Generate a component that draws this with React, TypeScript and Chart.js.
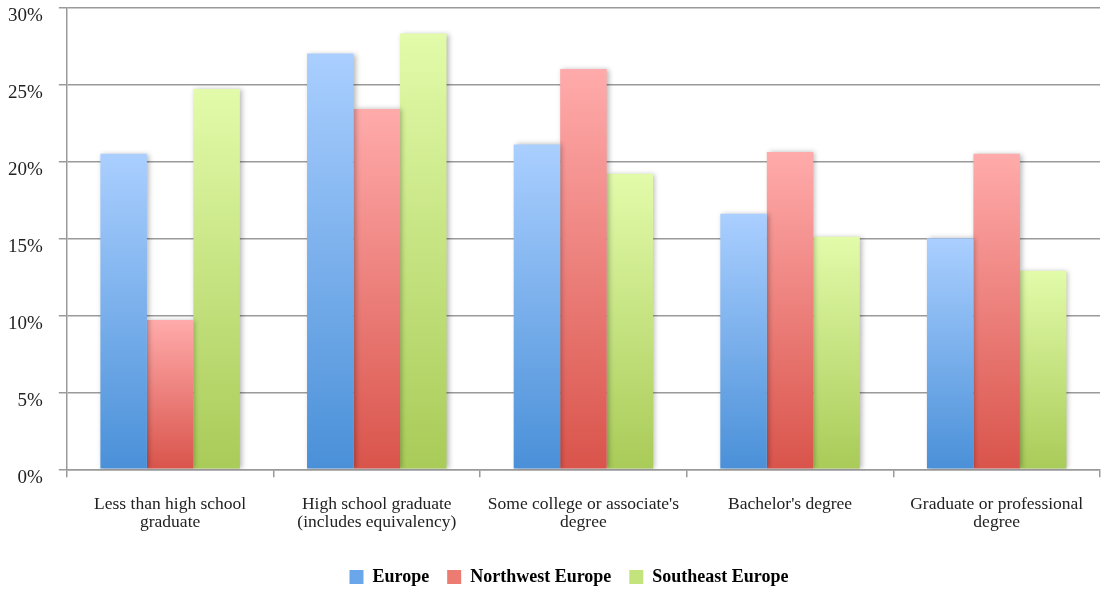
import React, { useEffect, useRef } from "react";
import { Chart, registerables } from "chart.js";

Chart.register(...registerables);

const categories: (string | string[])[] = [
  ["Less than high school", "graduate"],
  ["High school graduate", "(includes equivalency)"],
  ["Some college or associate's", "degree"],
  ["Bachelor's degree"],
  ["Graduate or professional", "degree"],
];
const europe = [20.5, 27.0, 21.1, 16.6, 15.0];
const northwestEurope = [9.7, 23.4, 26.0, 20.6, 20.5];
const southeastEurope = [24.7, 28.3, 19.2, 15.1, 12.9];
const yTicks = [0, 5, 10, 15, 20, 25, 30];

const palettes = [
  { top: "#aacfff", bottom: "#4a90d8", solid: "#6aa6ea" },
  { top: "#ffabab", bottom: "#d9544b", solid: "#ec7b72" },
  { top: "#e2fbaa", bottom: "#a9cb58", solid: "#c3e37c" },
];

function barGradient(idx: number) {
  return (ctx: any) => {
    const chart = ctx.chart;
    const p = palettes[idx];
    const ys = chart.scales && chart.scales.y;
    if (!chart.chartArea || !ys || ctx.type !== "data") return p.solid;
    const v = ctx.raw as number;
    const top = ys.getPixelForValue(v);
    const bottom = ys.getPixelForValue(0);
    if (!isFinite(top) || !isFinite(bottom) || top === bottom) return p.solid;
    const g = chart.ctx.createLinearGradient(0, top, 0, bottom);
    g.addColorStop(0, p.top);
    g.addColorStop(1, p.bottom);
    return g;
  };
}

const shadowPlugin = {
  id: "barShadow",
  afterLayout(chart: any) {
    if (chart.legend) chart.legend.left += 46;
  },
  beforeDatasetsDraw(chart: any) {
    const c = chart.ctx;
    c.save();
    c.shadowColor = "rgba(0,0,0,0.28)";
    c.shadowBlur = 5;
    c.shadowOffsetX = 2;
    c.shadowOffsetY = 0;
  },
  afterDatasetsDraw(chart: any) {
    chart.ctx.restore();
  },
};

export default function App() {
  const ref = useRef<HTMLCanvasElement>(null);
  useEffect(() => {
    if (!ref.current) return;
    const font = "'Liberation Serif', 'Times New Roman', serif";
    const names = ["Europe", "Northwest Europe", "Southeast Europe"];
    const series = [europe, northwestEurope, southeastEurope];
    const chart = new Chart(ref.current, {
      type: "bar",
      data: {
        labels: categories,
        datasets: series.map((d, i) => ({
          label: names[i],
          data: d,
          backgroundColor: barGradient(i),
          borderWidth: 0,
          barPercentage: 1,
          categoryPercentage: 0.675,
        })),
      },
      plugins: [shadowPlugin],
      options: {
        animation: false,
        responsive: true,
        maintainAspectRatio: false,
        layout: { padding: { left: 0, right: 2, top: 0, bottom: 0 } },
        plugins: {
          tooltip: { enabled: false },
          legend: {
            position: "bottom",
            labels: {
              font: { family: font, size: 18, weight: "bold" },
              color: "#111",
              boxWidth: 14,
              boxHeight: 14,
              padding: 18,
              generateLabels: (ch: any) =>
                names.map((n, i) => ({
                  text: n,
                  fillStyle: palettes[i].solid,
                  strokeStyle: palettes[i].solid,
                  lineWidth: 0,
                  hidden: false,
                  datasetIndex: i,
                })),
            },
          },
        },
        scales: {
          x: {
            grid: {
              drawOnChartArea: false,
              drawTicks: true,
              tickLength: 8,
              color: "#9a9a9a",
              lineWidth: 1.5,
            },
            border: { color: "#9a9a9a", width: 1.5 },
            ticks: {
              font: { family: font, size: 17.5, lineHeight: 1.05 },
              color: "#222",
              padding: 18,
              maxRotation: 0,
              autoSkip: false,
            },
          },
          y: {
            min: 0,
            max: 30,
            afterBuildTicks: (axis: any) => {
              axis.ticks = yTicks.map((v) => ({ value: v }));
            },
            grid: {
              color: "#9a9a9a",
              lineWidth: 1.5,
              tickLength: 8,
            },
            border: { color: "#9a9a9a", width: 1.5 },
            ticks: {
              font: { family: font, size: 19 },
              color: "#222",
              padding: 16,
              labelOffset: 9,
              callback: (v: any) => v + "%",
            },
          },
        },
      },
    });
    return () => chart.destroy();
  }, []);
  return (
    <div style={{ position: "fixed", left: -8, top: -20, width: 1110, height: 616, background: "#fff" }}>
      <canvas ref={ref} />
    </div>
  );
}
